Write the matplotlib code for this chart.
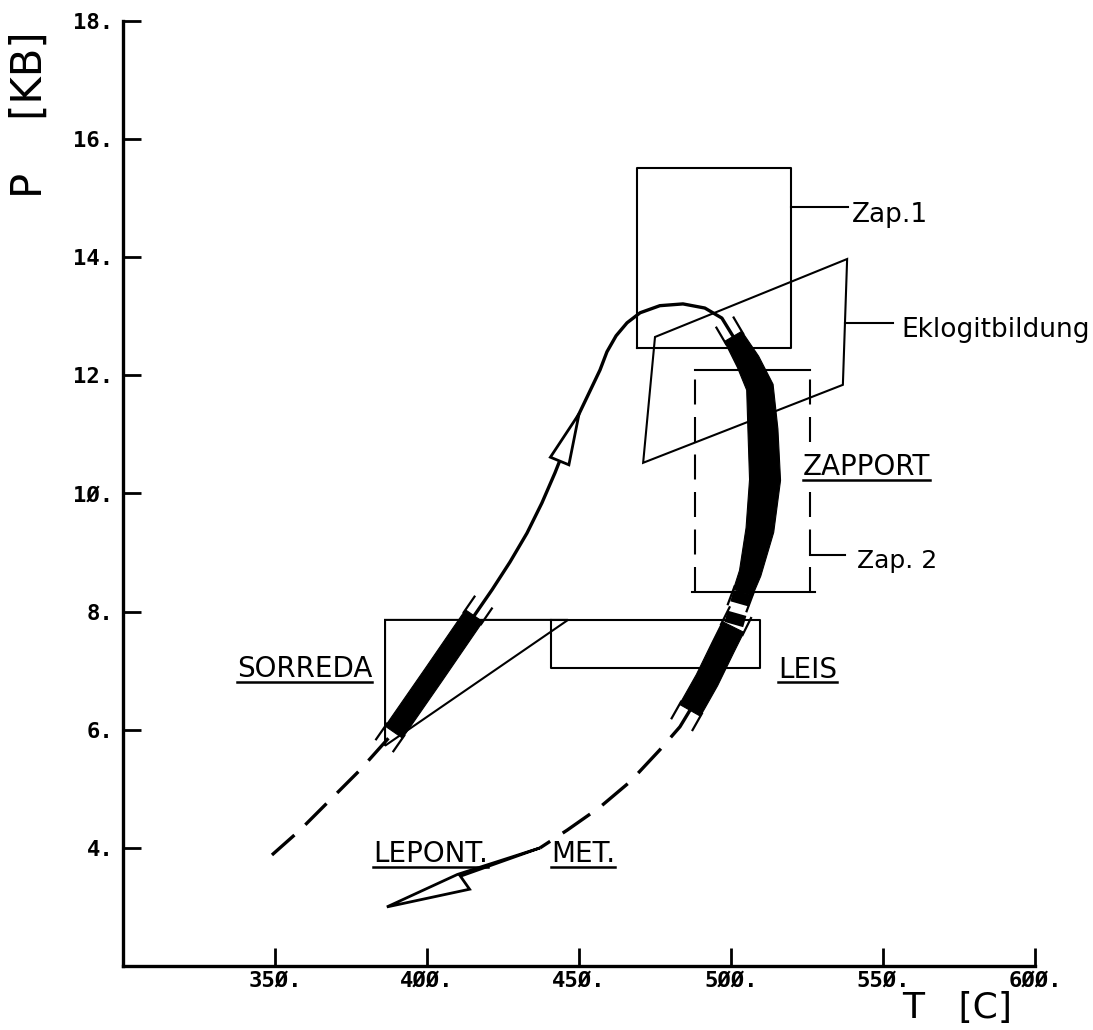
"""
P-T path diagram (Zapport / Sorreda / Leis) redrawn with matplotlib
"""

import numpy as np
import matplotlib.pyplot as plt
from matplotlib.patches import Polygon

# ---- data: T in C, P in kbar ----
# prograde dashed part below the Sorreda band
pro_dash_T = [349.0, 358.2, 368.1, 378.0, 389.1]
pro_dash_P = [3.88, 4.30, 4.81, 5.32, 5.96]
# Sorreda band
band1_T = [389.1, 402.3, 415.5]
band1_P = [5.96, 6.94, 7.93]
# prograde solid line over the pressure peak
pro_T = [415.5, 421.4, 427.3, 432.9, 437.8, 442.1, 445.7, 449.0, 453.0, 456.9,
         459.2, 462.2, 465.8, 470.1, 476.6, 484.2, 491.4, 497.0, 500.7]
pro_P = [7.93, 8.37, 8.84, 9.33, 9.84, 10.35, 10.82, 11.24, 11.67, 12.09,
         12.40, 12.67, 12.89, 13.06, 13.18, 13.21, 13.14, 12.97, 12.66]
# Zapport band
band2_T = [500.7, 505.6, 509.5, 510.5, 511.2, 509.5, 506.3, 503.9]
band2_P = [12.66, 12.23, 11.80, 11.08, 10.23, 9.38, 8.65, 8.32]
# Leis band
band3_T = [500.7, 497.4, 492.1, 486.5]
band3_P = [7.74, 7.40, 6.84, 6.33]
# retrograde dashed path
retro_T = [486.5, 483.2, 476.6, 466.8, 456.9, 446.1, 437.2]
retro_P = [6.33, 6.05, 5.66, 5.12, 4.69, 4.30, 4.00]
# retrograde arrow head (tip at the low P end)
arrow_T = [437.2, 410.0, 386.8, 414.0, 411.0]
arrow_P = [4.00, 3.55, 3.00, 3.30, 3.52]

# fields
zap1_T, zap1_P = [469.1, 519.7], [12.46, 15.51]
zap2_T, zap2_P = [488.2, 526.0], [8.33, 12.09]
eklogit_T = [475.0, 538.2, 536.8, 471.1]
eklogit_P = [12.65, 13.97, 11.84, 10.52]
sorreda_T = [386.2, 446.4, 386.2]
sorreda_P = [7.86, 7.86, 5.73]
leis_T, leis_P = [440.8, 509.5], [7.05, 7.86]

t_ticks = [350, 400, 450, 500, 550, 600]
p_ticks = [4, 6, 8, 10, 12, 14, 16, 18]

W, H, DPI = 1093, 1030, 100
fig = plt.figure(figsize=(W / DPI, H / DPI), dpi=DPI)
ax = fig.add_axes([123 / W, 64 / H, 912 / W, 945 / H])
ax.set_xlim(300, 600)
ax.set_ylim(2, 18)

# pixels per data unit, used to offset band edges
SX = 912 / 300.0
SY = 945 / 16.0
K = 'black'


def band(T, P, widths, ext=16):
    """Filled band along the path with short edge strokes at both ends"""
    px = np.asarray(T, float) * SX
    py = np.asarray(P, float) * SY
    w = np.broadcast_to(np.asarray(widths, float), px.shape)
    tx = np.gradient(px)
    ty = np.gradient(py)
    n = np.hypot(tx, ty)
    nx, ny = -ty / n, tx / n
    lx, ly = px + nx * w / 2, py + ny * w / 2
    rx, ry = px - nx * w / 2, py - ny * w / 2
    xs = np.concatenate([lx, rx[::-1]]) / SX
    ys = np.concatenate([ly, ry[::-1]]) / SY
    ax.add_patch(Polygon(np.column_stack([xs, ys]), closed=True, fc=K, ec=K, lw=0.8))
    for i, j in [(0, 1), (-1, -2)]:
        dx, dy = px[i] - px[j], py[i] - py[j]
        d = np.hypot(dx, dy)
        ux, uy = dx / d, dy / d
        for ex, ey in [(lx[i], ly[i]), (rx[i], ry[i])]:
            ax.plot([(ex - ux * 3) / SX, (ex + ux * ext) / SX],
                    [(ey - uy * 3) / SY, (ey + uy * ext) / SY], color=K, lw=1.6)


def hollow_arrow(T, P, p_base, p_tip, half=10):
    """Open arrow head sitting on the path, placed by pressure"""
    bx, by = np.interp(p_base, P, T) * SX, p_base * SY
    tx, ty = np.interp(p_tip, P, T) * SX, p_tip * SY
    d = np.hypot(tx - bx, ty - by)
    nx, ny = -(ty - by) / d, (tx - bx) / d
    pts = np.array([[tx, ty],
                    [bx + nx * half, by + ny * half],
                    [bx - nx * half, by - ny * half]])
    pts[:, 0] /= SX
    pts[:, 1] /= SY
    ax.add_patch(Polygon(pts, closed=True, fc='white', ec=K, lw=2.0, zorder=5))


# fields
lw_box = 1.5
ax.plot([zap1_T[0], zap1_T[0], zap1_T[1], zap1_T[1], zap1_T[0]],
        [zap1_P[0], zap1_P[1], zap1_P[1], zap1_P[0], zap1_P[0]], color=K, lw=lw_box)
ax.add_patch(Polygon(np.column_stack([eklogit_T, eklogit_P]), closed=True,
                     fill=False, ec=K, lw=lw_box))
ax.plot(zap2_T, [zap2_P[1]] * 2, color=K, lw=lw_box)
ax.plot([zap2_T[0] - 1, zap2_T[1] + 1.5], [zap2_P[0]] * 2, color=K, lw=lw_box)
for t in zap2_T:
    ax.plot([t, t], zap2_P, color=K, lw=lw_box, ls=(0, (12, 6)))
ax.add_patch(Polygon(np.column_stack([sorreda_T, sorreda_P]), closed=True,
                     fill=False, ec=K, lw=lw_box))
ax.plot([leis_T[0], leis_T[1], leis_T[1], leis_T[0], leis_T[0]],
        [leis_P[1], leis_P[1], leis_P[0], leis_P[0], leis_P[1]], color=K, lw=lw_box)

# path
ax.plot(pro_dash_T, pro_dash_P, color=K, lw=2.4, ls=(0, (9, 4.5)))
ax.plot(pro_T, pro_P, color=K, lw=2.4, solid_joinstyle='round')
ax.plot(retro_T, retro_P, color=K, lw=2.4, ls=(0, (10, 4.5)))
band(band1_T, band1_P, 21)
band(band2_T, band2_P, [20, 24, 27, 30, 31, 28, 22, 20])
band(band3_T, band3_P, 24)
ax.plot([band2_T[-1], band3_T[0]], [band2_P[-1], band3_P[0]], color=K, lw=14,
        ls=(0, (0.6, 0.5)), solid_capstyle='butt')
hollow_arrow(pro_T, pro_P, 10.55, 11.35)
ax.add_patch(Polygon(np.column_stack([arrow_T, arrow_P]), closed=True,
                     fc='white', ec=K, lw=2.0, zorder=5))

# leaders and labels
ax.plot([zap1_T[1], 538.5], [14.85, 14.85], color=K, lw=lw_box)
ax.plot([537.5, 553.3], [12.89, 12.89], color=K, lw=lw_box)
ax.plot([zap2_T[1], 537.5], [8.96, 8.96], color=K, lw=lw_box)

lab = dict(family='DejaVu Sans', color=K, va='baseline', ha='left')
ax.text(539.8, 14.60, 'Zap.1', fontsize=19, **lab)
ax.text(556.2, 12.65, 'Eklogitbildung', fontsize=19, **lab)
ax.text(541.4, 8.74, 'Zap. 2', fontsize=18, **lab)
under = [ax.text(337.5, 6.89, 'SORREDA', fontsize=20, **lab),
         ax.text(523.7, 10.31, 'ZAPPORT', fontsize=20, zorder=6,
                 bbox=dict(fc='white', ec='none', pad=1), **lab),
         ax.text(515.5, 6.88, 'LEIS', fontsize=20, **lab),
         ax.text(382.2, 3.76, 'LEPONT.', fontsize=20, **lab),
         ax.text(440.8, 3.76, 'MET.', fontsize=20, **lab)]

# axes
for s in ['top', 'right']:
    ax.spines[s].set_visible(False)
for s in ['left', 'bottom']:
    ax.spines[s].set_linewidth(2.4)
ax.set_xticks(t_ticks)
ax.set_xticklabels([f'{v}.'.replace('0', '\u00d8') for v in t_ticks])
ax.set_yticks(p_ticks)
ax.set_yticklabels([f'{v}.'.replace('0', '\u00d8') for v in p_ticks])
ax.tick_params(direction='in', length=13, width=2)
ax.tick_params(axis='x', pad=3)
ax.tick_params(axis='y', pad=7)
for lbl in ax.get_xticklabels() + ax.get_yticklabels():
    lbl.set_family('DejaVu Sans Mono')
    lbl.set_fontweight('bold')
    lbl.set_fontsize(16)

fig.text(30 / W, 1 - 115 / H, 'P    [KB]', rotation=90, ha='center', va='center',
         fontsize=30, family='DejaVu Sans')
fig.text(957 / W, 1 - 1008 / H, 'T   [C]', ha='center', va='center',
         fontsize=26, family='DejaVu Sans')

# underline the locality names
fig.canvas.draw()
inv = ax.transData.inverted()
for t in under:
    bb = t.get_window_extent()
    (x0, y0), (x1, _) = inv.transform([[bb.x0, bb.y0 + 1.5], [bb.x1, bb.y0 + 1.5]])
    ax.plot([x0, x1], [y0, y0], color=K, lw=1.8, zorder=7)

fig.savefig('out.png', dpi=DPI)
